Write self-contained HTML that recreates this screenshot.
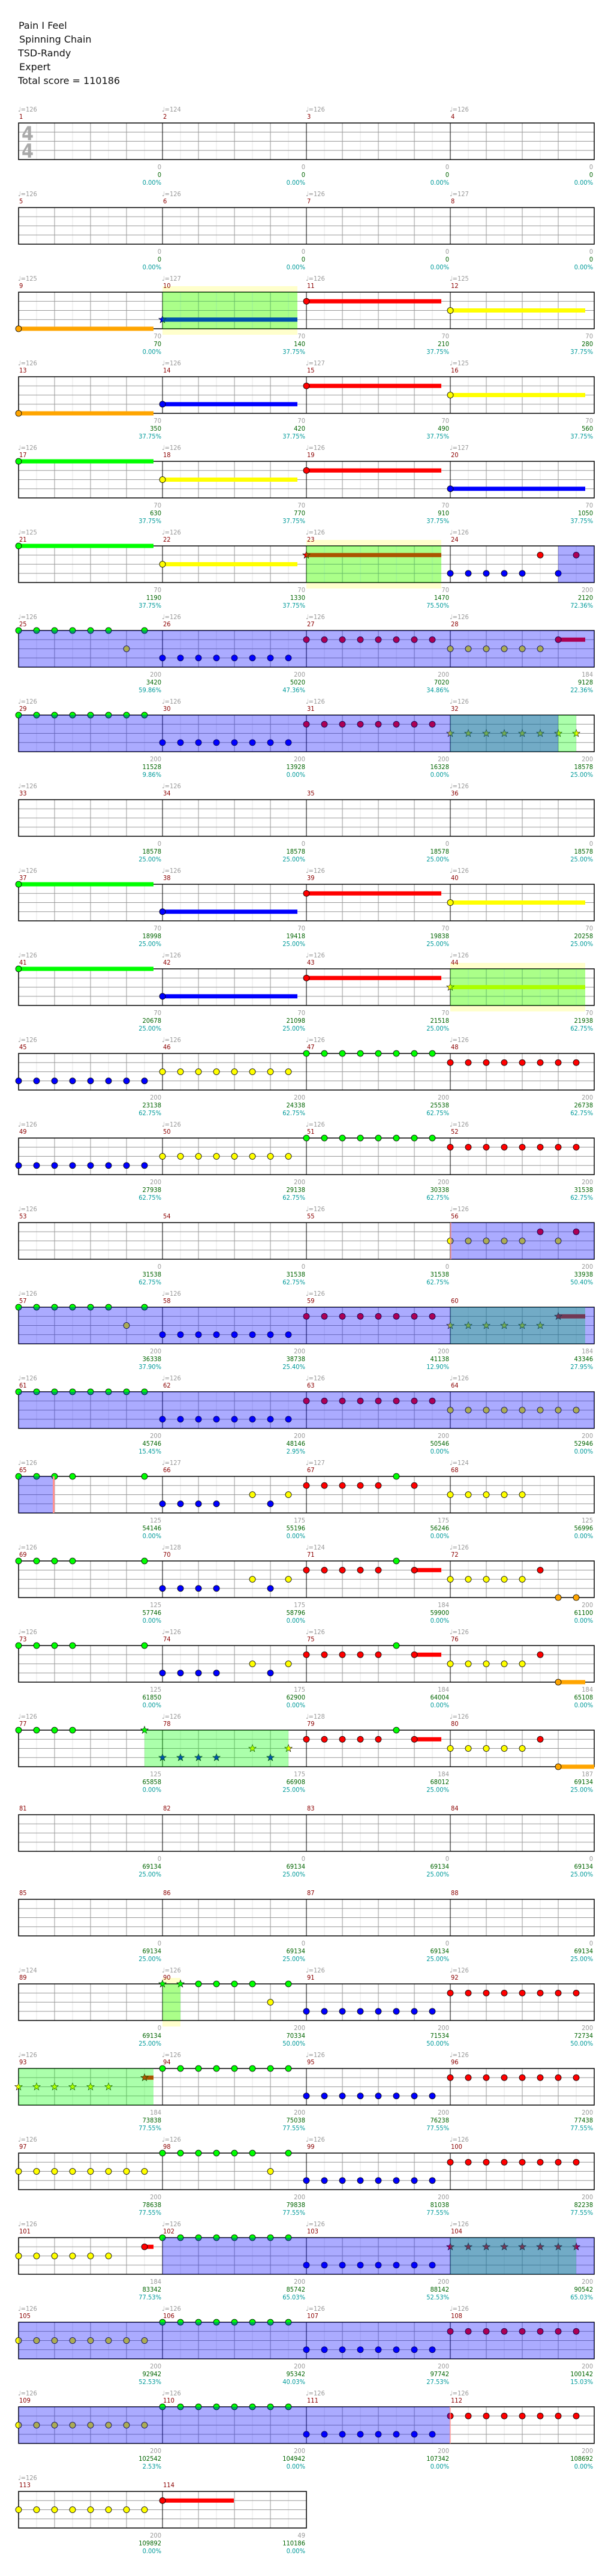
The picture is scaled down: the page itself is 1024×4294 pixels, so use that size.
<!DOCTYPE html>
<html><head><meta charset="utf-8"><style>
html,body{margin:0;padding:0;background:#fff}
svg{display:block}
.h{font:16px "DejaVu Sans",sans-serif;fill:#111}
text.t{font:11px "DejaVu Sans Condensed","DejaVu Sans",sans-serif}
.tp{fill:#999}.mn{fill:#8b0000}
.gr{fill:#999;text-anchor:end}.sc{fill:#006400;text-anchor:end}.pc{fill:#009a9a;text-anchor:end}
.G{fill:#0f0}.R{fill:#f00}.Y{fill:#ff0}.B{fill:#00f}.O{fill:#ffa500}
.od{fill:#00f;fill-opacity:.33}.sp{fill:#0f0;fill-opacity:.33}.pb{fill:#ffffcc}.pk{fill:#ff9090}
.ts{font:bold 32px "DejaVu Sans Condensed","DejaVu Sans",sans-serif;fill:#aaa}
</style></head><body>
<svg width="1024" height="4294" viewBox="0 0 1024 4294" xmlns="http://www.w3.org/2000/svg" xmlns:xlink="http://www.w3.org/1999/xlink">
<defs>
<circle id="n" r="5" stroke="#000" stroke-width=".8"/>
<g id="r4"><use href="#n"/><use href="#n" x="30"/><use href="#n" x="60"/><use href="#n" x="90"/></g>
<g id="r5"><use href="#r4"/><use href="#n" x="120"/></g>
<g id="r6"><use href="#r5"/><use href="#n" x="150"/></g>
<g id="r8"><use href="#r6"/><use href="#n" x="180"/><use href="#n" x="210"/></g>
<polygon id="s" points="0,-6.5 1.59,-2.18 6.18,-2.01 2.57,0.83 3.82,5.26 0,2.7 -3.82,5.26 -2.57,0.83 -6.18,-2.01 -1.59,-2.18" stroke="#000" stroke-width=".6"/>
<g id="s4"><use href="#s"/><use href="#s" x="30"/><use href="#s" x="60"/><use href="#s" x="90"/></g>
<g id="s6"><use href="#s4"/><use href="#s" x="120"/><use href="#s" x="150"/></g>
<g id="s8"><use href="#s6"/><use href="#s" x="180"/><use href="#s" x="210"/></g>
<g id="m"><path d="M30 0V61M90 0V61M150 0V61M210 0V61" stroke="#e4e4e4"/><path d="M0 15.25H240M0 30.5H240M0 45.75H240M60 0V61M120 0V61M180 0V61" stroke="#999"/><path d="M0 0V61" stroke="#000"/></g>
<g id="row"><use href="#m"/><use href="#m" x="240"/><use href="#m" x="480"/><use href="#m" x="720"/><rect width="960" height="61" fill="none" stroke="#000" stroke-width="1.5"/></g>
</defs>

<text class="h" x="31" y="48">Pain I Feel</text>
<text class="h" x="32" y="71">Spinning Chain</text>
<text class="h" x="30" y="94">TSD-Randy</text>
<text class="h" x="32" y="117">Expert</text>
<text class="h" x="30" y="140">Total score = 110186</text>

<!-- Row 0 -->
<g transform="translate(31,205)">
<use href="#row"/>
<text class="ts" x="5" y="29">4</text><text class="ts" x="5" y="58">4</text>
<text class="t tp" x="-1" y="-19">♩=126</text><text class="t mn" x="1" y="-7">1</text>
<text class="t tp" x="239" y="-19">♩=124</text><text class="t mn" x="241" y="-7">2</text>
<text class="t tp" x="479" y="-19">♩=126</text><text class="t mn" x="481" y="-7">3</text>
<text class="t tp" x="719" y="-19">♩=126</text><text class="t mn" x="721" y="-7">4</text>
<text class="t gr" x="238" y="77">0</text><text class="t sc" x="238" y="90">0</text><text class="t pc" x="238" y="103">0.00%</text>
<text class="t gr" x="478" y="77">0</text><text class="t sc" x="478" y="90">0</text><text class="t pc" x="478" y="103">0.00%</text>
<text class="t gr" x="718" y="77">0</text><text class="t sc" x="718" y="90">0</text><text class="t pc" x="718" y="103">0.00%</text>
<text class="t gr" x="958" y="77">0</text><text class="t sc" x="958" y="90">0</text><text class="t pc" x="958" y="103">0.00%</text>
</g>

<!-- Row 1 -->
<g transform="translate(31,346)">
<use href="#row"/>
<text class="t tp" x="-1" y="-19">♩=126</text><text class="t mn" x="1" y="-7">5</text>
<text class="t tp" x="239" y="-19">♩=126</text><text class="t mn" x="241" y="-7">6</text>
<text class="t tp" x="479" y="-19">♩=126</text><text class="t mn" x="481" y="-7">7</text>
<text class="t tp" x="719" y="-19">♩=127</text><text class="t mn" x="721" y="-7">8</text>
<text class="t gr" x="238" y="77">0</text><text class="t sc" x="238" y="90">0</text><text class="t pc" x="238" y="103">0.00%</text>
<text class="t gr" x="478" y="77">0</text><text class="t sc" x="478" y="90">0</text><text class="t pc" x="478" y="103">0.00%</text>
<text class="t gr" x="718" y="77">0</text><text class="t sc" x="718" y="90">0</text><text class="t pc" x="718" y="103">0.00%</text>
<text class="t gr" x="958" y="77">0</text><text class="t sc" x="958" y="90">0</text><text class="t pc" x="958" y="103">0.00%</text>
</g>

<!-- Row 2 -->
<g transform="translate(31,487)">
<rect class="pb" x="240" y="-10" width="225" height="81"/>
<use href="#row"/>
<rect class="O" x="0" y="57.5" width="225" height="7"/><use href="#n" class="O" x="0" y="61"/>
<rect class="B" x="240" y="42.25" width="225" height="7"/><use href="#s" class="B" x="240" y="45.75"/>
<rect class="R" x="480" y="11.75" width="225" height="7"/><use href="#n" class="R" x="480" y="15.25"/>
<rect class="Y" x="720" y="27" width="225" height="7"/><use href="#n" class="Y" x="720" y="30.5"/>
<rect class="sp" x="240" y="0" width="225" height="61"/>
<text class="t tp" x="-1" y="-19">♩=125</text><text class="t mn" x="1" y="-7">9</text>
<text class="t tp" x="239" y="-19">♩=127</text><text class="t mn" x="241" y="-7">10</text>
<text class="t tp" x="479" y="-19">♩=126</text><text class="t mn" x="481" y="-7">11</text>
<text class="t tp" x="719" y="-19">♩=125</text><text class="t mn" x="721" y="-7">12</text>
<text class="t gr" x="238" y="77">70</text><text class="t sc" x="238" y="90">70</text><text class="t pc" x="238" y="103">0.00%</text>
<text class="t gr" x="478" y="77">70</text><text class="t sc" x="478" y="90">140</text><text class="t pc" x="478" y="103">37.75%</text>
<text class="t gr" x="718" y="77">70</text><text class="t sc" x="718" y="90">210</text><text class="t pc" x="718" y="103">37.75%</text>
<text class="t gr" x="958" y="77">70</text><text class="t sc" x="958" y="90">280</text><text class="t pc" x="958" y="103">37.75%</text>
</g>

<!-- Row 3 -->
<g transform="translate(31,628)">
<use href="#row"/>
<rect class="O" x="0" y="57.5" width="225" height="7"/><use href="#n" class="O" x="0" y="61"/>
<rect class="B" x="240" y="42.25" width="225" height="7"/><use href="#n" class="B" x="240" y="45.75"/>
<rect class="R" x="480" y="11.75" width="225" height="7"/><use href="#n" class="R" x="480" y="15.25"/>
<rect class="Y" x="720" y="27" width="225" height="7"/><use href="#n" class="Y" x="720" y="30.5"/>
<text class="t tp" x="-1" y="-19">♩=126</text><text class="t mn" x="1" y="-7">13</text>
<text class="t tp" x="239" y="-19">♩=126</text><text class="t mn" x="241" y="-7">14</text>
<text class="t tp" x="479" y="-19">♩=127</text><text class="t mn" x="481" y="-7">15</text>
<text class="t tp" x="719" y="-19">♩=125</text><text class="t mn" x="721" y="-7">16</text>
<text class="t gr" x="238" y="77">70</text><text class="t sc" x="238" y="90">350</text><text class="t pc" x="238" y="103">37.75%</text>
<text class="t gr" x="478" y="77">70</text><text class="t sc" x="478" y="90">420</text><text class="t pc" x="478" y="103">37.75%</text>
<text class="t gr" x="718" y="77">70</text><text class="t sc" x="718" y="90">490</text><text class="t pc" x="718" y="103">37.75%</text>
<text class="t gr" x="958" y="77">70</text><text class="t sc" x="958" y="90">560</text><text class="t pc" x="958" y="103">37.75%</text>
</g>

<!-- Row 4 -->
<g transform="translate(31,769)">
<use href="#row"/>
<rect class="G" x="0" y="-3.5" width="225" height="7"/><use href="#n" class="G" x="0" y="0"/>
<rect class="Y" x="240" y="27" width="225" height="7"/><use href="#n" class="Y" x="240" y="30.5"/>
<rect class="R" x="480" y="11.75" width="225" height="7"/><use href="#n" class="R" x="480" y="15.25"/>
<rect class="B" x="720" y="42.25" width="225" height="7"/><use href="#n" class="B" x="720" y="45.75"/>
<text class="t tp" x="-1" y="-19">♩=126</text><text class="t mn" x="1" y="-7">17</text>
<text class="t tp" x="239" y="-19">♩=126</text><text class="t mn" x="241" y="-7">18</text>
<text class="t tp" x="479" y="-19">♩=126</text><text class="t mn" x="481" y="-7">19</text>
<text class="t tp" x="719" y="-19">♩=127</text><text class="t mn" x="721" y="-7">20</text>
<text class="t gr" x="238" y="77">70</text><text class="t sc" x="238" y="90">630</text><text class="t pc" x="238" y="103">37.75%</text>
<text class="t gr" x="478" y="77">70</text><text class="t sc" x="478" y="90">770</text><text class="t pc" x="478" y="103">37.75%</text>
<text class="t gr" x="718" y="77">70</text><text class="t sc" x="718" y="90">910</text><text class="t pc" x="718" y="103">37.75%</text>
<text class="t gr" x="958" y="77">70</text><text class="t sc" x="958" y="90">1050</text><text class="t pc" x="958" y="103">37.75%</text>
</g>

<!-- Row 5 -->
<g transform="translate(31,910)">
<rect class="pb" x="480" y="-10" width="225" height="81"/>
<use href="#row"/>
<rect class="G" x="0" y="-3.5" width="225" height="7"/><use href="#n" class="G" x="0" y="0"/>
<rect class="Y" x="240" y="27" width="225" height="7"/><use href="#n" class="Y" x="240" y="30.5"/>
<rect class="R" x="480" y="11.75" width="225" height="7"/><use href="#s" class="R" x="480" y="15.25"/>
<use href="#r5" class="B" x="720" y="45.75"/><use href="#n" class="B" x="900" y="45.75"/>
<use href="#n" class="R" x="870" y="15.25"/><use href="#n" class="R" x="930" y="15.25"/>
<rect class="sp" x="480" y="0" width="225" height="61"/>
<rect class="od" x="900" y="0" width="60" height="61"/>
<text class="t tp" x="-1" y="-19">♩=125</text><text class="t mn" x="1" y="-7">21</text>
<text class="t tp" x="239" y="-19">♩=126</text><text class="t mn" x="241" y="-7">22</text>
<text class="t tp" x="479" y="-19">♩=126</text><text class="t mn" x="481" y="-7">23</text>
<text class="t tp" x="719" y="-19">♩=126</text><text class="t mn" x="721" y="-7">24</text>
<text class="t gr" x="238" y="77">70</text><text class="t sc" x="238" y="90">1190</text><text class="t pc" x="238" y="103">37.75%</text>
<text class="t gr" x="478" y="77">70</text><text class="t sc" x="478" y="90">1330</text><text class="t pc" x="478" y="103">37.75%</text>
<text class="t gr" x="718" y="77">70</text><text class="t sc" x="718" y="90">1470</text><text class="t pc" x="718" y="103">75.50%</text>
<text class="t gr" x="958" y="77">200</text><text class="t sc" x="958" y="90">2120</text><text class="t pc" x="958" y="103">72.36%</text>
</g>

<!-- Row 6 -->
<g transform="translate(31,1051)">
<use href="#row"/>
<use href="#r6" class="G" x="0" y="0"/><use href="#n" class="G" x="210" y="0"/><use href="#n" class="Y" x="180" y="30.5"/>
<use href="#r8" class="B" x="240" y="45.75"/>
<use href="#r8" class="R" x="480" y="15.25"/>
<use href="#r6" class="Y" x="720" y="30.5"/>
<rect class="R" x="900" y="11.75" width="45" height="7"/><use href="#n" class="R" x="900" y="15.25"/>
<rect class="od" x="0" y="0" width="960" height="61"/>
<text class="t tp" x="-1" y="-19">♩=126</text><text class="t mn" x="1" y="-7">25</text>
<text class="t tp" x="239" y="-19">♩=126</text><text class="t mn" x="241" y="-7">26</text>
<text class="t tp" x="479" y="-19">♩=126</text><text class="t mn" x="481" y="-7">27</text>
<text class="t tp" x="719" y="-19">♩=126</text><text class="t mn" x="721" y="-7">28</text>
<text class="t gr" x="238" y="77">200</text><text class="t sc" x="238" y="90">3420</text><text class="t pc" x="238" y="103">59.86%</text>
<text class="t gr" x="478" y="77">200</text><text class="t sc" x="478" y="90">5020</text><text class="t pc" x="478" y="103">47.36%</text>
<text class="t gr" x="718" y="77">200</text><text class="t sc" x="718" y="90">7020</text><text class="t pc" x="718" y="103">34.86%</text>
<text class="t gr" x="958" y="77">184</text><text class="t sc" x="958" y="90">9128</text><text class="t pc" x="958" y="103">22.36%</text>
</g>

<!-- Row 7 -->
<g transform="translate(31,1192)">
<use href="#row"/>
<use href="#r8" class="G" x="0" y="0"/>
<use href="#r8" class="B" x="240" y="45.75"/>
<use href="#r8" class="R" x="480" y="15.25"/>
<use href="#s8" class="Y" x="720" y="30.5"/>
<rect class="sp" x="720" y="0" width="210" height="61"/>
<rect class="od" x="0" y="0" width="900" height="61"/>
<text class="t tp" x="-1" y="-19">♩=126</text><text class="t mn" x="1" y="-7">29</text>
<text class="t tp" x="239" y="-19">♩=126</text><text class="t mn" x="241" y="-7">30</text>
<text class="t tp" x="479" y="-19">♩=126</text><text class="t mn" x="481" y="-7">31</text>
<text class="t tp" x="719" y="-19">♩=126</text><text class="t mn" x="721" y="-7">32</text>
<text class="t gr" x="238" y="77">200</text><text class="t sc" x="238" y="90">11528</text><text class="t pc" x="238" y="103">9.86%</text>
<text class="t gr" x="478" y="77">200</text><text class="t sc" x="478" y="90">13928</text><text class="t pc" x="478" y="103">0.00%</text>
<text class="t gr" x="718" y="77">200</text><text class="t sc" x="718" y="90">16328</text><text class="t pc" x="718" y="103">0.00%</text>
<text class="t gr" x="958" y="77">200</text><text class="t sc" x="958" y="90">18578</text><text class="t pc" x="958" y="103">25.00%</text>
</g>

<!-- Row 8 -->
<g transform="translate(31,1333)">
<use href="#row"/>
<text class="t tp" x="-1" y="-19">♩=126</text><text class="t mn" x="1" y="-7">33</text>
<text class="t tp" x="239" y="-19">♩=126</text><text class="t mn" x="241" y="-7">34</text>
<text class="t mn" x="481" y="-7">35</text>
<text class="t tp" x="719" y="-19">♩=126</text><text class="t mn" x="721" y="-7">36</text>
<text class="t gr" x="238" y="77">0</text><text class="t sc" x="238" y="90">18578</text><text class="t pc" x="238" y="103">25.00%</text>
<text class="t gr" x="478" y="77">0</text><text class="t sc" x="478" y="90">18578</text><text class="t pc" x="478" y="103">25.00%</text>
<text class="t gr" x="718" y="77">0</text><text class="t sc" x="718" y="90">18578</text><text class="t pc" x="718" y="103">25.00%</text>
<text class="t gr" x="958" y="77">0</text><text class="t sc" x="958" y="90">18578</text><text class="t pc" x="958" y="103">25.00%</text>
</g>

<!-- Row 9 -->
<g transform="translate(31,1474)">
<use href="#row"/>
<rect class="G" x="0" y="-3.5" width="225" height="7"/><use href="#n" class="G" x="0" y="0"/>
<rect class="B" x="240" y="42.25" width="225" height="7"/><use href="#n" class="B" x="240" y="45.75"/>
<rect class="R" x="480" y="11.75" width="225" height="7"/><use href="#n" class="R" x="480" y="15.25"/>
<rect class="Y" x="720" y="27" width="225" height="7"/><use href="#n" class="Y" x="720" y="30.5"/>
<text class="t tp" x="-1" y="-19">♩=126</text><text class="t mn" x="1" y="-7">37</text>
<text class="t tp" x="239" y="-19">♩=126</text><text class="t mn" x="241" y="-7">38</text>
<text class="t tp" x="479" y="-19">♩=126</text><text class="t mn" x="481" y="-7">39</text>
<text class="t tp" x="719" y="-19">♩=126</text><text class="t mn" x="721" y="-7">40</text>
<text class="t gr" x="238" y="77">70</text><text class="t sc" x="238" y="90">18998</text><text class="t pc" x="238" y="103">25.00%</text>
<text class="t gr" x="478" y="77">70</text><text class="t sc" x="478" y="90">19418</text><text class="t pc" x="478" y="103">25.00%</text>
<text class="t gr" x="718" y="77">70</text><text class="t sc" x="718" y="90">19838</text><text class="t pc" x="718" y="103">25.00%</text>
<text class="t gr" x="958" y="77">70</text><text class="t sc" x="958" y="90">20258</text><text class="t pc" x="958" y="103">25.00%</text>
</g>

<!-- Row 10 -->
<g transform="translate(31,1615)">
<rect class="pb" x="720" y="-10" width="225" height="81"/>
<use href="#row"/>
<rect class="G" x="0" y="-3.5" width="225" height="7"/><use href="#n" class="G" x="0" y="0"/>
<rect class="B" x="240" y="42.25" width="225" height="7"/><use href="#n" class="B" x="240" y="45.75"/>
<rect class="R" x="480" y="11.75" width="225" height="7"/><use href="#n" class="R" x="480" y="15.25"/>
<rect class="Y" x="720" y="27" width="225" height="7"/><use href="#s" class="Y" x="720" y="30.5"/>
<rect class="sp" x="720" y="0" width="225" height="61"/>
<text class="t tp" x="-1" y="-19">♩=126</text><text class="t mn" x="1" y="-7">41</text>
<text class="t tp" x="239" y="-19">♩=126</text><text class="t mn" x="241" y="-7">42</text>
<text class="t tp" x="479" y="-19">♩=126</text><text class="t mn" x="481" y="-7">43</text>
<text class="t tp" x="719" y="-19">♩=126</text><text class="t mn" x="721" y="-7">44</text>
<text class="t gr" x="238" y="77">70</text><text class="t sc" x="238" y="90">20678</text><text class="t pc" x="238" y="103">25.00%</text>
<text class="t gr" x="478" y="77">70</text><text class="t sc" x="478" y="90">21098</text><text class="t pc" x="478" y="103">25.00%</text>
<text class="t gr" x="718" y="77">70</text><text class="t sc" x="718" y="90">21518</text><text class="t pc" x="718" y="103">25.00%</text>
<text class="t gr" x="958" y="77">70</text><text class="t sc" x="958" y="90">21938</text><text class="t pc" x="958" y="103">62.75%</text>
</g>

<!-- Row 11 -->
<g transform="translate(31,1756)">
<use href="#row"/>
<use href="#r8" class="B" x="0" y="45.75"/>
<use href="#r8" class="Y" x="240" y="30.5"/>
<use href="#r8" class="G" x="480" y="0"/>
<use href="#r8" class="R" x="720" y="15.25"/>
<text class="t tp" x="-1" y="-19">♩=126</text><text class="t mn" x="1" y="-7">45</text>
<text class="t tp" x="239" y="-19">♩=126</text><text class="t mn" x="241" y="-7">46</text>
<text class="t tp" x="479" y="-19">♩=126</text><text class="t mn" x="481" y="-7">47</text>
<text class="t tp" x="719" y="-19">♩=126</text><text class="t mn" x="721" y="-7">48</text>
<text class="t gr" x="238" y="77">200</text><text class="t sc" x="238" y="90">23138</text><text class="t pc" x="238" y="103">62.75%</text>
<text class="t gr" x="478" y="77">200</text><text class="t sc" x="478" y="90">24338</text><text class="t pc" x="478" y="103">62.75%</text>
<text class="t gr" x="718" y="77">200</text><text class="t sc" x="718" y="90">25538</text><text class="t pc" x="718" y="103">62.75%</text>
<text class="t gr" x="958" y="77">200</text><text class="t sc" x="958" y="90">26738</text><text class="t pc" x="958" y="103">62.75%</text>
</g>

<!-- Row 12 -->
<g transform="translate(31,1897)">
<use href="#row"/>
<use href="#r8" class="B" x="0" y="45.75"/>
<use href="#r8" class="Y" x="240" y="30.5"/>
<use href="#r8" class="G" x="480" y="0"/>
<use href="#r8" class="R" x="720" y="15.25"/>
<text class="t tp" x="-1" y="-19">♩=126</text><text class="t mn" x="1" y="-7">49</text>
<text class="t tp" x="239" y="-19">♩=126</text><text class="t mn" x="241" y="-7">50</text>
<text class="t tp" x="479" y="-19">♩=126</text><text class="t mn" x="481" y="-7">51</text>
<text class="t tp" x="719" y="-19">♩=126</text><text class="t mn" x="721" y="-7">52</text>
<text class="t gr" x="238" y="77">200</text><text class="t sc" x="238" y="90">27938</text><text class="t pc" x="238" y="103">62.75%</text>
<text class="t gr" x="478" y="77">200</text><text class="t sc" x="478" y="90">29138</text><text class="t pc" x="478" y="103">62.75%</text>
<text class="t gr" x="718" y="77">200</text><text class="t sc" x="718" y="90">30338</text><text class="t pc" x="718" y="103">62.75%</text>
<text class="t gr" x="958" y="77">200</text><text class="t sc" x="958" y="90">31538</text><text class="t pc" x="958" y="103">62.75%</text>
</g>

<!-- Row 13 -->
<g transform="translate(31,2038)">
<use href="#row"/>
<use href="#r5" class="Y" x="720" y="30.5"/><use href="#n" class="Y" x="900" y="30.5"/>
<use href="#n" class="R" x="870" y="15.25"/><use href="#n" class="R" x="930" y="15.25"/>
<rect class="od" x="720" y="0" width="240" height="61"/><rect class="pk" x="720" y="0" width="1.5" height="61"/>
<text class="t tp" x="-1" y="-19">♩=126</text><text class="t mn" x="1" y="-7">53</text>
<text class="t mn" x="241" y="-7">54</text>
<text class="t tp" x="479" y="-19">♩=126</text><text class="t mn" x="481" y="-7">55</text>
<text class="t tp" x="719" y="-19">♩=126</text><text class="t mn" x="721" y="-7">56</text>
<text class="t gr" x="238" y="77">0</text><text class="t sc" x="238" y="90">31538</text><text class="t pc" x="238" y="103">62.75%</text>
<text class="t gr" x="478" y="77">0</text><text class="t sc" x="478" y="90">31538</text><text class="t pc" x="478" y="103">62.75%</text>
<text class="t gr" x="718" y="77">0</text><text class="t sc" x="718" y="90">31538</text><text class="t pc" x="718" y="103">62.75%</text>
<text class="t gr" x="958" y="77">200</text><text class="t sc" x="958" y="90">33938</text><text class="t pc" x="958" y="103">50.40%</text>
</g>

<!-- Row 14 -->
<g transform="translate(31,2179)">
<use href="#row"/>
<use href="#r6" class="G" x="0" y="0"/><use href="#n" class="G" x="210" y="0"/><use href="#n" class="Y" x="180" y="30.5"/>
<use href="#r8" class="B" x="240" y="45.75"/>
<use href="#r8" class="R" x="480" y="15.25"/>
<use href="#s6" class="Y" x="720" y="30.5"/>
<rect class="R" x="900" y="11.75" width="45" height="7"/><use href="#s" class="R" x="900" y="15.25"/>
<rect class="sp" x="720" y="0" width="225" height="61"/>
<rect class="od" x="0" y="0" width="960" height="61"/>
<text class="t tp" x="-1" y="-19">♩=126</text><text class="t mn" x="1" y="-7">57</text>
<text class="t tp" x="239" y="-19">♩=126</text><text class="t mn" x="241" y="-7">58</text>
<text class="t tp" x="479" y="-19">♩=126</text><text class="t mn" x="481" y="-7">59</text>
<text class="t mn" x="721" y="-7">60</text>
<text class="t gr" x="238" y="77">200</text><text class="t sc" x="238" y="90">36338</text><text class="t pc" x="238" y="103">37.90%</text>
<text class="t gr" x="478" y="77">200</text><text class="t sc" x="478" y="90">38738</text><text class="t pc" x="478" y="103">25.40%</text>
<text class="t gr" x="718" y="77">200</text><text class="t sc" x="718" y="90">41138</text><text class="t pc" x="718" y="103">12.90%</text>
<text class="t gr" x="958" y="77">184</text><text class="t sc" x="958" y="90">43346</text><text class="t pc" x="958" y="103">27.95%</text>
</g>

<!-- Row 15 -->
<g transform="translate(31,2320)">
<use href="#row"/>
<use href="#r8" class="G" x="0" y="0"/>
<use href="#r8" class="B" x="240" y="45.75"/>
<use href="#r8" class="R" x="480" y="15.25"/>
<use href="#r8" class="Y" x="720" y="30.5"/>
<rect class="od" x="0" y="0" width="960" height="61"/>
<text class="t tp" x="-1" y="-19">♩=126</text><text class="t mn" x="1" y="-7">61</text>
<text class="t tp" x="239" y="-19">♩=126</text><text class="t mn" x="241" y="-7">62</text>
<text class="t tp" x="479" y="-19">♩=126</text><text class="t mn" x="481" y="-7">63</text>
<text class="t tp" x="719" y="-19">♩=126</text><text class="t mn" x="721" y="-7">64</text>
<text class="t gr" x="238" y="77">200</text><text class="t sc" x="238" y="90">45746</text><text class="t pc" x="238" y="103">15.45%</text>
<text class="t gr" x="478" y="77">200</text><text class="t sc" x="478" y="90">48146</text><text class="t pc" x="478" y="103">2.95%</text>
<text class="t gr" x="718" y="77">200</text><text class="t sc" x="718" y="90">50546</text><text class="t pc" x="718" y="103">0.00%</text>
<text class="t gr" x="958" y="77">200</text><text class="t sc" x="958" y="90">52946</text><text class="t pc" x="958" y="103">0.00%</text>
</g>

<!-- Row 16 -->
<g transform="translate(31,2461)">
<use href="#row"/>
<use href="#r4" class="G" x="0" y="0"/><use href="#n" class="G" x="210" y="0"/>
<use href="#r4" class="B" x="240" y="45.75"/><use href="#n" class="B" x="420" y="45.75"/>
<use href="#n" class="Y" x="390" y="30.5"/><use href="#n" class="Y" x="450" y="30.5"/>
<use href="#r5" class="R" x="480" y="15.25"/><use href="#n" class="R" x="660" y="15.25"/><use href="#n" class="G" x="630" y="0"/>
<use href="#r5" class="Y" x="720" y="30.5"/>
<rect class="od" x="0" y="0" width="57" height="61"/><rect class="pk" x="57" y="0" width="3" height="61"/>
<text class="t tp" x="-1" y="-19">♩=126</text><text class="t mn" x="1" y="-7">65</text>
<text class="t tp" x="239" y="-19">♩=127</text><text class="t mn" x="241" y="-7">66</text>
<text class="t tp" x="479" y="-19">♩=127</text><text class="t mn" x="481" y="-7">67</text>
<text class="t tp" x="719" y="-19">♩=124</text><text class="t mn" x="721" y="-7">68</text>
<text class="t gr" x="238" y="77">125</text><text class="t sc" x="238" y="90">54146</text><text class="t pc" x="238" y="103">0.00%</text>
<text class="t gr" x="478" y="77">175</text><text class="t sc" x="478" y="90">55196</text><text class="t pc" x="478" y="103">0.00%</text>
<text class="t gr" x="718" y="77">175</text><text class="t sc" x="718" y="90">56246</text><text class="t pc" x="718" y="103">0.00%</text>
<text class="t gr" x="958" y="77">125</text><text class="t sc" x="958" y="90">56996</text><text class="t pc" x="958" y="103">0.00%</text>
</g>

<!-- Row 17 -->
<g transform="translate(31,2602)">
<use href="#row"/>
<use href="#r4" class="G" x="0" y="0"/><use href="#n" class="G" x="210" y="0"/>
<use href="#r4" class="B" x="240" y="45.75"/><use href="#n" class="B" x="420" y="45.75"/>
<use href="#n" class="Y" x="390" y="30.5"/><use href="#n" class="Y" x="450" y="30.5"/>
<use href="#r5" class="R" x="480" y="15.25"/><rect class="R" x="660" y="11.75" width="45" height="7"/><use href="#n" class="R" x="660" y="15.25"/><use href="#n" class="G" x="630" y="0"/>
<use href="#r5" class="Y" x="720" y="30.5"/><use href="#n" class="R" x="870" y="15.25"/>
<use href="#n" class="O" x="900" y="61"/><use href="#n" class="O" x="930" y="61"/>
<text class="t tp" x="-1" y="-19">♩=126</text><text class="t mn" x="1" y="-7">69</text>
<text class="t tp" x="239" y="-19">♩=128</text><text class="t mn" x="241" y="-7">70</text>
<text class="t tp" x="479" y="-19">♩=124</text><text class="t mn" x="481" y="-7">71</text>
<text class="t tp" x="719" y="-19">♩=126</text><text class="t mn" x="721" y="-7">72</text>
<text class="t gr" x="238" y="77">125</text><text class="t sc" x="238" y="90">57746</text><text class="t pc" x="238" y="103">0.00%</text>
<text class="t gr" x="478" y="77">175</text><text class="t sc" x="478" y="90">58796</text><text class="t pc" x="478" y="103">0.00%</text>
<text class="t gr" x="718" y="77">184</text><text class="t sc" x="718" y="90">59900</text><text class="t pc" x="718" y="103">0.00%</text>
<text class="t gr" x="958" y="77">200</text><text class="t sc" x="958" y="90">61100</text><text class="t pc" x="958" y="103">0.00%</text>
</g>

<!-- Row 18 -->
<g transform="translate(31,2743)">
<use href="#row"/>
<use href="#r4" class="G" x="0" y="0"/><use href="#n" class="G" x="210" y="0"/>
<use href="#r4" class="B" x="240" y="45.75"/><use href="#n" class="B" x="420" y="45.75"/>
<use href="#n" class="Y" x="390" y="30.5"/><use href="#n" class="Y" x="450" y="30.5"/>
<use href="#r5" class="R" x="480" y="15.25"/><rect class="R" x="660" y="11.75" width="45" height="7"/><use href="#n" class="R" x="660" y="15.25"/><use href="#n" class="G" x="630" y="0"/>
<use href="#r5" class="Y" x="720" y="30.5"/><use href="#n" class="R" x="870" y="15.25"/>
<rect class="O" x="900" y="57.5" width="45" height="7"/><use href="#n" class="O" x="900" y="61"/>
<text class="t tp" x="-1" y="-19">♩=126</text><text class="t mn" x="1" y="-7">73</text>
<text class="t tp" x="239" y="-19">♩=126</text><text class="t mn" x="241" y="-7">74</text>
<text class="t tp" x="479" y="-19">♩=126</text><text class="t mn" x="481" y="-7">75</text>
<text class="t tp" x="719" y="-19">♩=126</text><text class="t mn" x="721" y="-7">76</text>
<text class="t gr" x="238" y="77">125</text><text class="t sc" x="238" y="90">61850</text><text class="t pc" x="238" y="103">0.00%</text>
<text class="t gr" x="478" y="77">175</text><text class="t sc" x="478" y="90">62900</text><text class="t pc" x="478" y="103">0.00%</text>
<text class="t gr" x="718" y="77">184</text><text class="t sc" x="718" y="90">64004</text><text class="t pc" x="718" y="103">0.00%</text>
<text class="t gr" x="958" y="77">184</text><text class="t sc" x="958" y="90">65108</text><text class="t pc" x="958" y="103">0.00%</text>
</g>

<!-- Row 19 -->
<g transform="translate(31,2884)">
<use href="#row"/>
<use href="#r4" class="G" x="0" y="0"/><use href="#s" class="G" x="210" y="0"/>
<use href="#s4" class="B" x="240" y="45.75"/><use href="#s" class="B" x="420" y="45.75"/>
<use href="#s" class="Y" x="390" y="30.5"/><use href="#s" class="Y" x="450" y="30.5"/>
<use href="#r5" class="R" x="480" y="15.25"/><rect class="R" x="660" y="11.75" width="45" height="7"/><use href="#n" class="R" x="660" y="15.25"/><use href="#n" class="G" x="630" y="0"/>
<use href="#r5" class="Y" x="720" y="30.5"/><use href="#n" class="R" x="870" y="15.25"/>
<rect class="O" x="900" y="57.5" width="60" height="7"/><use href="#n" class="O" x="900" y="61"/>
<rect class="sp" x="210" y="0" width="240" height="61"/>
<text class="t tp" x="-1" y="-19">♩=126</text><text class="t mn" x="1" y="-7">77</text>
<text class="t tp" x="239" y="-19">♩=126</text><text class="t mn" x="241" y="-7">78</text>
<text class="t tp" x="479" y="-19">♩=128</text><text class="t mn" x="481" y="-7">79</text>
<text class="t tp" x="719" y="-19">♩=126</text><text class="t mn" x="721" y="-7">80</text>
<text class="t gr" x="238" y="77">125</text><text class="t sc" x="238" y="90">65858</text><text class="t pc" x="238" y="103">0.00%</text>
<text class="t gr" x="478" y="77">175</text><text class="t sc" x="478" y="90">66908</text><text class="t pc" x="478" y="103">25.00%</text>
<text class="t gr" x="718" y="77">184</text><text class="t sc" x="718" y="90">68012</text><text class="t pc" x="718" y="103">25.00%</text>
<text class="t gr" x="958" y="77">187</text><text class="t sc" x="958" y="90">69134</text><text class="t pc" x="958" y="103">25.00%</text>
</g>

<!-- Row 20 -->
<g transform="translate(31,3025)">
<use href="#row"/>
<text class="t mn" x="1" y="-7">81</text><text class="t mn" x="241" y="-7">82</text><text class="t mn" x="481" y="-7">83</text><text class="t mn" x="721" y="-7">84</text>
<text class="t gr" x="238" y="77">0</text><text class="t sc" x="238" y="90">69134</text><text class="t pc" x="238" y="103">25.00%</text>
<text class="t gr" x="478" y="77">0</text><text class="t sc" x="478" y="90">69134</text><text class="t pc" x="478" y="103">25.00%</text>
<text class="t gr" x="718" y="77">0</text><text class="t sc" x="718" y="90">69134</text><text class="t pc" x="718" y="103">25.00%</text>
<text class="t gr" x="958" y="77">0</text><text class="t sc" x="958" y="90">69134</text><text class="t pc" x="958" y="103">25.00%</text>
</g>

<!-- Row 21 -->
<g transform="translate(31,3166)">
<use href="#row"/>
<text class="t mn" x="1" y="-7">85</text><text class="t mn" x="241" y="-7">86</text><text class="t mn" x="481" y="-7">87</text><text class="t mn" x="721" y="-7">88</text>
<text class="t gr" x="238" y="77">0</text><text class="t sc" x="238" y="90">69134</text><text class="t pc" x="238" y="103">25.00%</text>
<text class="t gr" x="478" y="77">0</text><text class="t sc" x="478" y="90">69134</text><text class="t pc" x="478" y="103">25.00%</text>
<text class="t gr" x="718" y="77">0</text><text class="t sc" x="718" y="90">69134</text><text class="t pc" x="718" y="103">25.00%</text>
<text class="t gr" x="958" y="77">0</text><text class="t sc" x="958" y="90">69134</text><text class="t pc" x="958" y="103">25.00%</text>
</g>

<!-- Row 22 -->
<g transform="translate(31,3307)">
<rect class="pb" x="240" y="-10" width="30" height="81"/>
<use href="#row"/>
<use href="#s" class="G" x="240" y="0"/><use href="#s" class="G" x="270" y="0"/>
<use href="#r4" class="G" x="300" y="0"/><use href="#n" class="G" x="450" y="0"/><use href="#n" class="Y" x="420" y="30.5"/>
<use href="#r8" class="B" x="480" y="45.75"/>
<use href="#r8" class="R" x="720" y="15.25"/>
<rect class="sp" x="240" y="0" width="30" height="61"/>
<text class="t tp" x="-1" y="-19">♩=124</text><text class="t mn" x="1" y="-7">89</text>
<text class="t tp" x="239" y="-19">♩=126</text><text class="t mn" x="241" y="-7">90</text>
<text class="t tp" x="479" y="-19">♩=126</text><text class="t mn" x="481" y="-7">91</text>
<text class="t tp" x="719" y="-19">♩=126</text><text class="t mn" x="721" y="-7">92</text>
<text class="t gr" x="238" y="77">0</text><text class="t sc" x="238" y="90">69134</text><text class="t pc" x="238" y="103">25.00%</text>
<text class="t gr" x="478" y="77">200</text><text class="t sc" x="478" y="90">70334</text><text class="t pc" x="478" y="103">50.00%</text>
<text class="t gr" x="718" y="77">200</text><text class="t sc" x="718" y="90">71534</text><text class="t pc" x="718" y="103">50.00%</text>
<text class="t gr" x="958" y="77">200</text><text class="t sc" x="958" y="90">72734</text><text class="t pc" x="958" y="103">50.00%</text>
</g>

<!-- Row 23 -->
<g transform="translate(31,3448)">
<use href="#row"/>
<use href="#s6" class="Y" x="0" y="30.5"/>
<rect class="R" x="210" y="11.75" width="15" height="7"/><use href="#s" class="R" x="210" y="15.25"/>
<use href="#r8" class="G" x="240" y="0"/>
<use href="#r8" class="B" x="480" y="45.75"/>
<use href="#r8" class="R" x="720" y="15.25"/>
<rect class="sp" x="0" y="0" width="225" height="61"/>
<text class="t tp" x="-1" y="-19">♩=126</text><text class="t mn" x="1" y="-7">93</text>
<text class="t tp" x="239" y="-19">♩=126</text><text class="t mn" x="241" y="-7">94</text>
<text class="t tp" x="479" y="-19">♩=126</text><text class="t mn" x="481" y="-7">95</text>
<text class="t tp" x="719" y="-19">♩=126</text><text class="t mn" x="721" y="-7">96</text>
<text class="t gr" x="238" y="77">184</text><text class="t sc" x="238" y="90">73838</text><text class="t pc" x="238" y="103">77.55%</text>
<text class="t gr" x="478" y="77">200</text><text class="t sc" x="478" y="90">75038</text><text class="t pc" x="478" y="103">77.55%</text>
<text class="t gr" x="718" y="77">200</text><text class="t sc" x="718" y="90">76238</text><text class="t pc" x="718" y="103">77.55%</text>
<text class="t gr" x="958" y="77">200</text><text class="t sc" x="958" y="90">77438</text><text class="t pc" x="958" y="103">77.55%</text>
</g>

<!-- Row 24 -->
<g transform="translate(31,3589)">
<use href="#row"/>
<use href="#r8" class="Y" x="0" y="30.5"/>
<use href="#r6" class="G" x="240" y="0"/><use href="#n" class="G" x="450" y="0"/><use href="#n" class="Y" x="420" y="30.5"/>
<use href="#r8" class="B" x="480" y="45.75"/>
<use href="#r8" class="R" x="720" y="15.25"/>
<text class="t tp" x="-1" y="-19">♩=126</text><text class="t mn" x="1" y="-7">97</text>
<text class="t tp" x="239" y="-19">♩=126</text><text class="t mn" x="241" y="-7">98</text>
<text class="t tp" x="479" y="-19">♩=126</text><text class="t mn" x="481" y="-7">99</text>
<text class="t tp" x="719" y="-19">♩=126</text><text class="t mn" x="721" y="-7">100</text>
<text class="t gr" x="238" y="77">200</text><text class="t sc" x="238" y="90">78638</text><text class="t pc" x="238" y="103">77.55%</text>
<text class="t gr" x="478" y="77">200</text><text class="t sc" x="478" y="90">79838</text><text class="t pc" x="478" y="103">77.55%</text>
<text class="t gr" x="718" y="77">200</text><text class="t sc" x="718" y="90">81038</text><text class="t pc" x="718" y="103">77.55%</text>
<text class="t gr" x="958" y="77">200</text><text class="t sc" x="958" y="90">82238</text><text class="t pc" x="958" y="103">77.55%</text>
</g>

<!-- Row 25 -->
<g transform="translate(31,3730)">
<use href="#row"/>
<use href="#r6" class="Y" x="0" y="30.5"/>
<rect class="R" x="210" y="11.75" width="15" height="7"/><use href="#n" class="R" x="210" y="15.25"/>
<use href="#r8" class="G" x="240" y="0"/>
<use href="#r8" class="B" x="480" y="45.75"/>
<use href="#s8" class="R" x="720" y="15.25"/>
<rect class="sp" x="720" y="0" width="210" height="61"/>
<rect class="od" x="240" y="0" width="720" height="61"/>
<text class="t tp" x="-1" y="-19">♩=126</text><text class="t mn" x="1" y="-7">101</text>
<text class="t tp" x="239" y="-19">♩=126</text><text class="t mn" x="241" y="-7">102</text>
<text class="t tp" x="479" y="-19">♩=126</text><text class="t mn" x="481" y="-7">103</text>
<text class="t tp" x="719" y="-19">♩=126</text><text class="t mn" x="721" y="-7">104</text>
<text class="t gr" x="238" y="77">184</text><text class="t sc" x="238" y="90">83342</text><text class="t pc" x="238" y="103">77.53%</text>
<text class="t gr" x="478" y="77">200</text><text class="t sc" x="478" y="90">85742</text><text class="t pc" x="478" y="103">65.03%</text>
<text class="t gr" x="718" y="77">200</text><text class="t sc" x="718" y="90">88142</text><text class="t pc" x="718" y="103">52.53%</text>
<text class="t gr" x="958" y="77">200</text><text class="t sc" x="958" y="90">90542</text><text class="t pc" x="958" y="103">65.03%</text>
</g>

<!-- Row 26 -->
<g transform="translate(31,3871)">
<use href="#row"/>
<use href="#r8" class="Y" x="0" y="30.5"/>
<use href="#r8" class="G" x="240" y="0"/>
<use href="#r8" class="B" x="480" y="45.75"/>
<use href="#r8" class="R" x="720" y="15.25"/>
<rect class="od" x="0" y="0" width="960" height="61"/>
<text class="t tp" x="-1" y="-19">♩=126</text><text class="t mn" x="1" y="-7">105</text>
<text class="t tp" x="239" y="-19">♩=126</text><text class="t mn" x="241" y="-7">106</text>
<text class="t tp" x="479" y="-19">♩=126</text><text class="t mn" x="481" y="-7">107</text>
<text class="t tp" x="719" y="-19">♩=126</text><text class="t mn" x="721" y="-7">108</text>
<text class="t gr" x="238" y="77">200</text><text class="t sc" x="238" y="90">92942</text><text class="t pc" x="238" y="103">52.53%</text>
<text class="t gr" x="478" y="77">200</text><text class="t sc" x="478" y="90">95342</text><text class="t pc" x="478" y="103">40.03%</text>
<text class="t gr" x="718" y="77">200</text><text class="t sc" x="718" y="90">97742</text><text class="t pc" x="718" y="103">27.53%</text>
<text class="t gr" x="958" y="77">200</text><text class="t sc" x="958" y="90">100142</text><text class="t pc" x="958" y="103">15.03%</text>
</g>

<!-- Row 27 -->
<g transform="translate(31,4012)">
<use href="#row"/>
<use href="#r8" class="Y" x="0" y="30.5"/>
<use href="#r8" class="G" x="240" y="0"/>
<use href="#r8" class="B" x="480" y="45.75"/>
<use href="#r8" class="R" x="720" y="15.25"/>
<rect class="od" x="0" y="0" width="720" height="61"/><rect class="pk" x="719" y="0" width="1.5" height="61"/>
<text class="t tp" x="-1" y="-19">♩=126</text><text class="t mn" x="1" y="-7">109</text>
<text class="t tp" x="239" y="-19">♩=126</text><text class="t mn" x="241" y="-7">110</text>
<text class="t tp" x="479" y="-19">♩=126</text><text class="t mn" x="481" y="-7">111</text>
<text class="t tp" x="719" y="-19">♩=126</text><text class="t mn" x="721" y="-7">112</text>
<text class="t gr" x="238" y="77">200</text><text class="t sc" x="238" y="90">102542</text><text class="t pc" x="238" y="103">2.53%</text>
<text class="t gr" x="478" y="77">200</text><text class="t sc" x="478" y="90">104942</text><text class="t pc" x="478" y="103">0.00%</text>
<text class="t gr" x="718" y="77">200</text><text class="t sc" x="718" y="90">107342</text><text class="t pc" x="718" y="103">0.00%</text>
<text class="t gr" x="958" y="77">200</text><text class="t sc" x="958" y="90">108692</text><text class="t pc" x="958" y="103">0.00%</text>
</g>

<!-- Row 28 -->
<g transform="translate(31,4153)">
<use href="#m"/><use href="#m" x="240"/><rect width="480" height="61" fill="none" stroke="#000" stroke-width="1.5"/>
<use href="#r8" class="Y" x="0" y="30.5"/>
<rect class="R" x="240" y="11.75" width="119" height="7"/><use href="#n" class="R" x="240" y="15.25"/>
<text class="t tp" x="-1" y="-19">♩=126</text><text class="t mn" x="1" y="-7">113</text>
<text class="t mn" x="241" y="-7">114</text>
<text class="t gr" x="238" y="77">200</text><text class="t sc" x="238" y="90">109892</text><text class="t pc" x="238" y="103">0.00%</text>
<text class="t gr" x="478" y="77">49</text><text class="t sc" x="478" y="90">110186</text><text class="t pc" x="478" y="103">0.00%</text>
</g>
</svg>
</body></html>
